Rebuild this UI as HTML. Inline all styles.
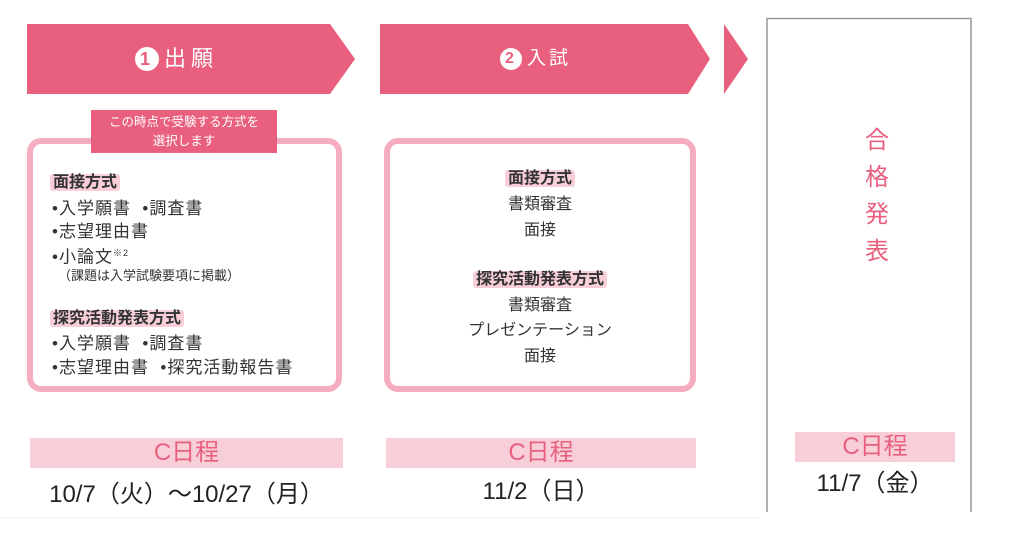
<!DOCTYPE html>
<html><head><meta charset="utf-8"><style>
body{margin:0;width:1024px;height:545px;background:#fff;position:relative;overflow:hidden;font-family:"Liberation Sans","Noto Sans CJK JP",sans-serif;}
.a{position:absolute}
.t{position:absolute;white-space:nowrap;color:#333;font-size:16px;line-height:21px}
.b{font-size:17px;letter-spacing:1px}
.tag{background:#f8cfd9;padding:0 3px;border-radius:3px;font-weight:bold}
.box{position:absolute;border:6px solid #f4aebf;border-radius:14px;background:#fff;box-sizing:border-box}
.bar{position:absolute;background:#f8cfd9;color:#e8607e;font-size:24px;line-height:30px;text-align:center}
.date{position:absolute;font-size:24px;color:#222;text-align:center;line-height:30px}
</style></head><body>
<svg class="a" style="left:0;top:0" width="1024" height="545">
<polygon points="27,24 330,24 355,59 330,94 27,94" fill="#e8607e"/>
<polygon points="380,24 688,24 710,59 688,94 380,94" fill="#e8607e"/>
<polygon points="724,24 748,59 724,94" fill="#e8607e"/>
<path d="M767,512 V18.5 H971 V512" fill="none" stroke="#999" stroke-width="1.5"/>
<line x1="0" y1="518" x2="760" y2="518" stroke="#eee"/>
<circle cx="147" cy="59" r="12" fill="#fff"/>
<circle cx="511" cy="59" r="11" fill="#fff"/>
</svg>
<div class="t" style="left:140px;top:47px;color:#e8607e;font-weight:bold;font-size:18px;line-height:24px">1</div>
<div class="t" style="left:164px;top:45px;color:#fff;font-size:22px;line-height:28px;letter-spacing:5px">出願</div>
<div class="t" style="left:505px;top:48px;color:#e8607e;font-weight:bold;font-size:16px;line-height:22px">2</div>
<div class="t" style="left:527px;top:47px;color:#fff;font-size:19px;line-height:24px;letter-spacing:3px">入試</div>

<div class="box" style="left:27px;top:138px;width:315px;height:254px"></div>
<div class="a" style="left:91px;top:110px;width:186px;height:43px;background:#e8607e;color:#fff;font-size:12.5px;line-height:19px;text-align:center;padding-top:3px;box-sizing:border-box">この時点で受験する方式を<br>選択します</div>
<div class="t" style="left:50px;top:172px"><span class="tag">面接方式</span></div>
<div class="t b" style="left:52px;top:198px">•入学願書 &nbsp;•調査書</div>
<div class="t b" style="left:52px;top:221px">•志望理由書</div>
<div class="t b" style="left:52px;top:243px">•小論文<sup style="font-size:9px">※2</sup></div>
<div class="t" style="left:58px;top:265px;font-size:13px">（課題は入学試験要項に掲載）</div>
<div class="t" style="left:50px;top:308px"><span class="tag">探究活動発表方式</span></div>
<div class="t b" style="left:52px;top:333px">•入学願書 &nbsp;•調査書</div>
<div class="t b" style="left:52px;top:357px">•志望理由書 &nbsp;•探究活動報告書</div>

<div class="box" style="left:384px;top:138px;width:312px;height:254px"></div>
<div class="t" style="left:384px;width:312px;text-align:center;top:168px"><span class="tag">面接方式</span></div>
<div class="t" style="left:384px;width:312px;text-align:center;top:194px">書類審査</div>
<div class="t" style="left:384px;width:312px;text-align:center;top:220px">面接</div>
<div class="t" style="left:384px;width:312px;text-align:center;top:269px"><span class="tag">探究活動発表方式</span></div>
<div class="t" style="left:384px;width:312px;text-align:center;top:295px">書類審査</div>
<div class="t" style="left:384px;width:312px;text-align:center;top:320px">プレゼンテーション</div>
<div class="t" style="left:384px;width:312px;text-align:center;top:346px">面接</div>

<div class="t" style="left:860px;top:122px;color:#e8607e;font-size:24px;line-height:37px;width:34px;text-align:center">合<br>格<br>発<br>表</div>

<div class="bar" style="left:30px;top:438px;width:313px">C日程</div>
<div class="date" style="left:30px;top:480px;width:313px">10/7（火）～10/27（月）</div>
<div class="bar" style="left:386px;top:438px;width:310px">C日程</div>
<div class="date" style="left:386px;top:477px;width:310px">11/2（日）</div>
<div class="bar" style="left:795px;top:432px;width:160px">C日程</div>
<div class="date" style="left:795px;top:469px;width:160px">11/7（金）</div>
</body></html>
